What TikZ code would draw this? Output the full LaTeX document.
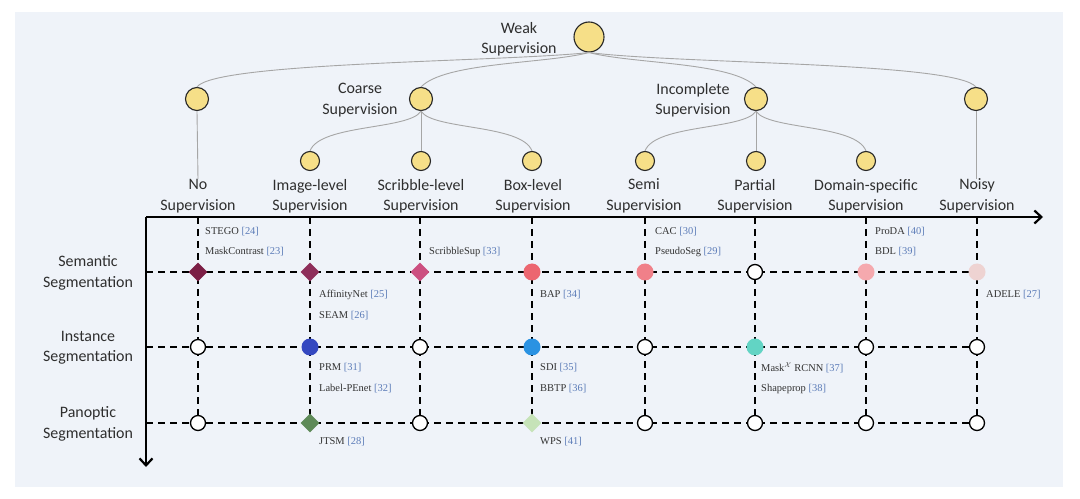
\documentclass[tikz,border=0pt]{standalone}
\usepackage{fontspec}
\setmainfont{Carlito}
\newfontfamily\methfont{Liberation Serif}
\usetikzlibrary{shapes.geometric,arrows.meta}
\definecolor{bgc}{HTML}{EFF3F9}
\definecolor{yel}{HTML}{F6DF88}
\definecolor{treeline}{HTML}{A6A6A6}
\definecolor{citec}{HTML}{5C7CB8}
\definecolor{mA}{HTML}{7B1E45}
\definecolor{mB}{HTML}{8E2E5A}
\definecolor{mC}{HTML}{CC4F80}
\definecolor{mD}{HTML}{EC6670}
\definecolor{mE}{HTML}{F08089}
\definecolor{mF}{HTML}{F5A9AE}
\definecolor{mG}{HTML}{EED3D2}
\definecolor{bA}{HTML}{3448C0}
\definecolor{bB}{HTML}{2A92E2}
\definecolor{tA}{HTML}{62D4C4}
\definecolor{gA}{HTML}{5E8A58}
\definecolor{gB}{HTML}{C6E3B8}
\newcommand\methref[2]{#1 \textcolor{citec}{[#2]}}
\tikzset{
  treenode/.style={circle,draw=black!85,line width=1.1bp,fill=yel,inner sep=0pt},
  bignode/.style={treenode,minimum size=30bp},
  midnode/.style={treenode,minimum size=23bp},
  smallnode/.style={treenode,minimum size=19bp},
  treeedge/.style={draw=treeline,line width=0.9bp},
  lab/.style={font=\fontsize{16}{20.5}\selectfont,align=center,text=black!82,inner sep=0pt},
  axisline/.style={line width=2.6bp,-{Straight Barb[length=7bp,width=13bp,line width=2.2bp]}},
  gridline/.style={line width=1.8bp,dash pattern=on 7bp off 5bp},
  openm/.style={circle,draw=black,line width=1.3bp,fill=white,minimum size=15bp,inner sep=0pt},
  dotm/.style={circle,fill=#1,minimum size=17bp,inner sep=0pt},
  diam/.style={diamond,fill=#1,minimum size=19bp,inner sep=0pt},
  meth/.style={anchor=west,inner sep=0pt,font=\methfont\fontsize{10.5}{12}\selectfont,text=black!80}
}
\begin{document}
\begin{tikzpicture}[x=1bp,y=-1bp]
\useasboundingbox (0,0) rectangle (1080,499);
\fill[white] (0,0) rectangle (1080,499);
\fill[bgc] (15,12) rectangle (1063,487);

% ---------- tree ----------
\node[bignode] (weak) at (589,37) {};
\node[lab] (weaklab) at (519,39) {Weak\\Supervision};
\node[midnode] (no) at (197,99) {};
\node[midnode] (coarse) at (421,99) {};
\node[lab] (coarselab) at (360,100) {Coarse\\Supervision};
\node[midnode] (incomplete) at (756,99) {};
\node[lab] (incompletelab) at (693,100) {Incomplete\\Supervision};
\node[midnode] (noisy) at (976,99) {};
\node[smallnode] (imagelvl) at (310,161) {};
\node[smallnode] (scribble) at (421,161) {};
\node[smallnode] (box) at (532,161) {};
\node[smallnode] (semi) at (645,161) {};
\node[smallnode] (partial) at (756,161) {};
\node[smallnode] (domain) at (866,161) {};

% column labels
\node[lab] (lab1) at (198,196) {No\\Supervision};
\node[lab] (lab2) at (310,196) {Image-level\\Supervision};
\node[lab] (lab3) at (421,196) {Scribble-level\\Supervision};
\node[lab] (lab4) at (533,196) {Box-level\\Supervision};
\node[lab] (lab5) at (644,196) {Semi\\Supervision};
\node[lab] (lab6) at (755,196) {Partial\\Supervision};
\node[lab] (lab7) at (866,196) {Domain-specific\\Supervision};
\node[lab] (lab8) at (977,196) {Noisy\\Supervision};

% tree edges
\draw[treeedge] (weak.south) .. controls (500,62) and (215,62) .. (no.north);
\draw[treeedge] (weak.south) .. controls (545,64) and (445,62) .. (coarse.north);
\draw[treeedge] (weak.south) .. controls (633,64) and (733,62) .. (incomplete.north);
\draw[treeedge] (weak.south) .. controls (680,64) and (955,62) .. (noisy.north);
\draw[treeedge] (no.south) -- (lab1.north);
\draw[treeedge] (noisy.south) -- (noisy.south |- lab8.north);
\draw[treeedge] (coarse.south) .. controls (410,130) and (320,124) .. (imagelvl.north);
\draw[treeedge] (coarse.south) -- (scribble.north);
\draw[treeedge] (coarse.south) .. controls (432,130) and (522,124) .. (box.north);
\draw[treeedge] (incomplete.south) .. controls (745,130) and (655,124) .. (semi.north);
\draw[treeedge] (incomplete.south) -- (partial.north);
\draw[treeedge] (incomplete.south) .. controls (767,130) and (856,124) .. (domain.north);

% row labels
\node[lab] (rowS) at (88,273) {Semantic\\Segmentation};
\node[lab] (rowI) at (88,348) {Instance\\Segmentation};
\node[lab] (rowP) at (88,424) {Panoptic\\Segmentation};

% ---------- grid ----------
\coordinate (O) at (146,217);
\coordinate (xend) at (1043,217);
\coordinate (yend) at (146,467);
\foreach \c/\x in {1/198,2/310,3/420,4/532,5/645,6/755,7/866,8/977}{
  \coordinate (T\c) at (\x,217);
  \coordinate (S\c) at (\x,272);
  \coordinate (I\c) at (\x,347);
  \coordinate (P\c) at (\x,423);
}
\coordinate (aS) at (146,272);
\coordinate (aI) at (146,347);
\coordinate (aP) at (146,423);
\foreach \r in {S,I,P}{ \draw[gridline] (a\r) -- (\r8); }
\foreach \c in {1,...,8}{ \draw[gridline] (T\c) -- (P\c); }
\draw[axisline] (O) -- (xend);
\draw[axisline] (O) -- (yend);

% markers
\node[diam=mA] (mS1) at (S1) {};
\node[diam=mB] (mS2) at (S2) {};
\node[diam=mC] (mS3) at (S3) {};
\node[dotm=mD] (mS4) at (S4) {};
\node[dotm=mE] (mS5) at (S5) {};
\node[openm] (mS6) at (S6) {};
\node[dotm=mF] (mS7) at (S7) {};
\node[dotm=mG] (mS8) at (S8) {};
\node[openm] (mI1) at (I1) {};
\node[dotm=bA] (mI2) at (I2) {};
\node[openm] (mI3) at (I3) {};
\node[dotm=bB] (mI4) at (I4) {};
\node[openm] (mI5) at (I5) {};
\node[dotm=tA] (mI6) at (I6) {};
\node[openm] (mI7) at (I7) {};
\node[openm] (mI8) at (I8) {};
\node[openm] (mP1) at (P1) {};
\node[diam=gA] (mP2) at (P2) {};
\node[openm] (mP3) at (P3) {};
\node[diam=gB] (mP4) at (P4) {};
\node[openm] (mP5) at (P5) {};
\node[openm] (mP6) at (P6) {};
\node[openm] (mP7) at (P7) {};
\node[openm] (mP8) at (P8) {};

% method labels
\node[meth] (t1) at (205,232) {\methref{STEGO}{24}};
\node[meth] (t2) at (205,252) {\methref{MaskContrast}{23}};
\node[meth] (t3) at (319,295) {\methref{AffinityNet}{25}};
\node[meth] (t4) at (319,316) {\methref{SEAM}{26}};
\node[meth] (t5) at (319,368) {\methref{PRM}{31}};
\node[meth] (t6) at (319,389) {\methref{Label-PEnet}{32}};
\node[meth] (t7) at (319,442) {\methref{JTSM}{28}};
\node[meth] (t8) at (429,252) {\methref{ScribbleSup}{33}};
\node[meth] (t9) at (540,295) {\methref{BAP}{34}};
\node[meth] (t10) at (540,368) {\methref{SDI}{35}};
\node[meth] (t11) at (540,389) {\methref{BBTP}{36}};
\node[meth] (t12) at (540,442) {\methref{WPS}{41}};
\node[meth] (t13) at (655,232) {\methref{CAC}{30}};
\node[meth] (t14) at (655,252) {\methref{PseudoSeg}{29}};
\node[meth] (t15) at (761,368) {\methref{Mask$^{\mathcal{X}}$\ RCNN}{37}};
\node[meth] (t16) at (761,389) {\methref{Shapeprop}{38}};
\node[meth] (t17) at (875,232) {\methref{ProDA}{40}};
\node[meth] (t18) at (875,252) {\methref{BDL}{39}};
\node[meth] (t19) at (986,295) {\methref{ADELE}{27}};
\end{tikzpicture}
\end{document}
